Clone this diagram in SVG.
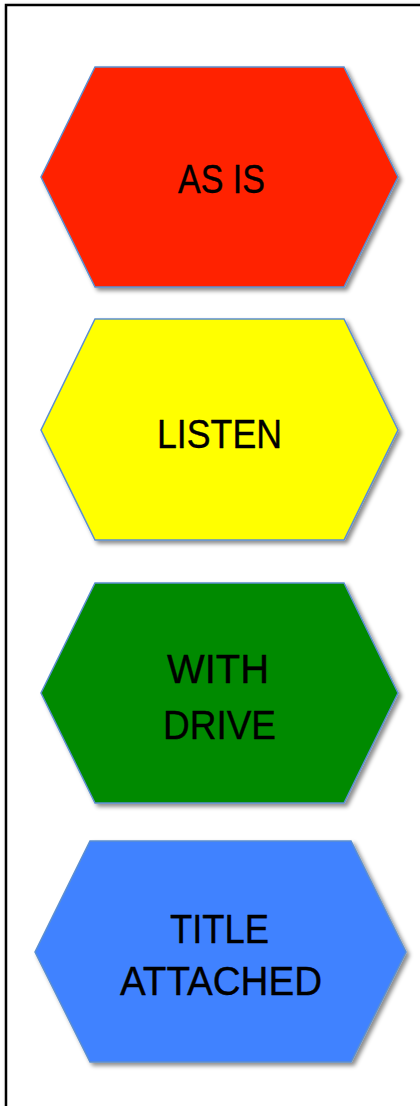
<svg xmlns="http://www.w3.org/2000/svg" width="420" height="1106" viewBox="0 0 420 1106">
<style>
.hex{stroke:#5B8FD0;stroke-width:1.5;filter:url(#sh)}
.t{font-family:"Liberation Sans",Arial,sans-serif;font-size:40px;fill:#000;stroke:#000;stroke-width:0.4;text-anchor:middle}
</style>
<defs>
<filter id="sh" x="-10%" y="-10%" width="130%" height="130%">
<feDropShadow dx="3" dy="3" stdDeviation="2" flood-color="#000" flood-opacity="0.45"/>
</filter>
<filter id="fs" x="-5%" y="-5%" width="110%" height="110%">
<feDropShadow dx="2" dy="2" stdDeviation="2" flood-color="#000" flood-opacity="0.3"/>
</filter>
</defs>
<rect x="0" y="0" width="420" height="1106" fill="#fff"/>
<g id="frame">
<rect x="6" y="5" width="430" height="1120" fill="#fff" stroke="#000" stroke-width="2.5" filter="url(#fs)"/>
</g>
<g id="as-is">
<polygon class="hex" fill="#FF2400" points="95,67 344,67 398,177 344,287 95,287 41,177"/>
<text class="t" x="221.5" y="193" textLength="87" lengthAdjust="spacingAndGlyphs">AS IS</text>
</g>
<g id="listen">
<polygon class="hex" fill="#FFFF00" points="95,319 344,319 398,430 344,540 95,540 41,430"/>
<text class="t" x="219.5" y="448" textLength="125" lengthAdjust="spacingAndGlyphs">LISTEN</text>
</g>
<g id="with-drive">
<polygon class="hex" fill="#008A00" points="95,583 344,583 398,693 344,803 95,803 41,693"/>
<text class="t" x="218" y="683" textLength="102" lengthAdjust="spacingAndGlyphs">WITH</text>
<text class="t" x="219.5" y="739" textLength="113" lengthAdjust="spacingAndGlyphs">DRIVE</text>
</g>
<g id="title-attached">
<polygon class="hex" fill="#4182FF" points="90,841 351,841 406,952 351,1062 90,1062 35,952"/>
<text class="t" x="219.5" y="943" textLength="99" lengthAdjust="spacingAndGlyphs">TITLE</text>
<text class="t" x="221" y="995" textLength="202" lengthAdjust="spacingAndGlyphs">ATTACHED</text>
</g>
<g id="connectors"/>
</svg>
